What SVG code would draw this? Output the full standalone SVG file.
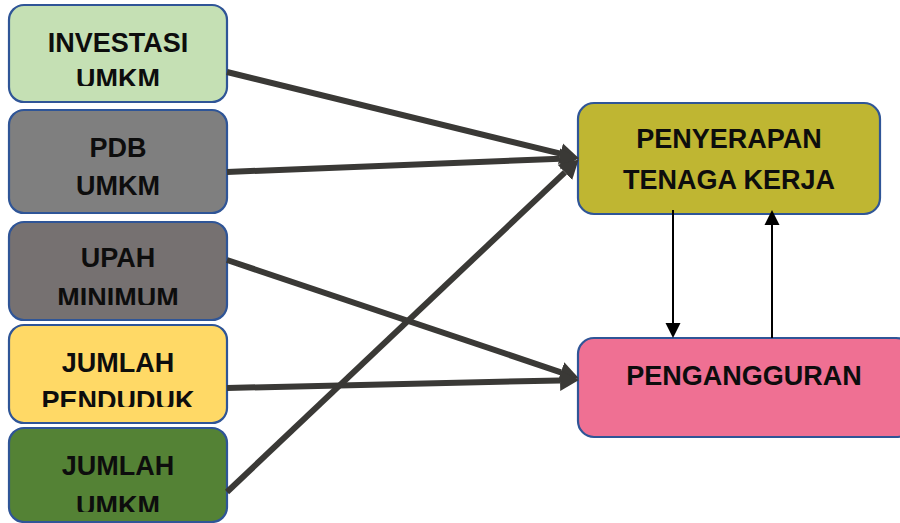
<svg xmlns="http://www.w3.org/2000/svg" width="900" height="523" viewBox="0 0 900 523">
<style>
.box{stroke:#2f5597;stroke-width:2.2}
.t{font-family:"Liberation Sans",Arial,sans-serif;font-weight:bold;font-size:27px;fill:#0d0d0d;text-anchor:middle}
.thick{stroke:#3a3936;stroke-width:6;fill:none}
.thin{stroke:#000;stroke-width:2;fill:none}
</style>
<defs>
<marker id="ah" markerUnits="userSpaceOnUse" markerWidth="20" markerHeight="24" viewBox="0 -11 19 22" refX="0" refY="0" orient="auto">
<path d="M0,-10 L18,0 L0,10 z" fill="#3a3936"/>
</marker>
<marker id="ahs" markerUnits="userSpaceOnUse" markerWidth="16" markerHeight="16" viewBox="0 -8 16 16" refX="0" refY="0" orient="auto">
<path d="M0,-7.5 L15,0 L0,7.5 z" fill="#000"/>
</marker>
<clipPath id="c1"><rect x="0" y="0" width="240" height="86"/></clipPath>
<clipPath id="c3"><rect x="0" y="215" width="240" height="90"/></clipPath>
<clipPath id="c4"><rect x="0" y="322" width="240" height="85"/></clipPath>
<clipPath id="c5"><rect x="0" y="426" width="240" height="86"/></clipPath>
</defs>

<g id="investasi">
<rect class="box" x="9" y="5" width="218" height="97" rx="15" fill="#c5e0b4"/>
<g clip-path="url(#c1)"><text class="t" x="118" y="52">INVESTASI</text><text class="t" x="118" y="88">UMKM</text></g>
</g>
<g id="pdb">
<rect class="box" x="9" y="110" width="218" height="103" rx="15" fill="#7f7f7f"/>
<text class="t" x="118" y="157">PDB</text><text class="t" x="118" y="195">UMKM</text>
</g>
<g id="upah">
<rect class="box" x="9" y="222" width="218" height="98" rx="15" fill="#767171"/>
<g clip-path="url(#c3)"><text class="t" x="118" y="267">UPAH</text><text class="t" x="118" y="307">MINIMUM</text></g>
</g>
<g id="penduduk">
<rect class="box" x="9" y="325" width="218" height="98" rx="15" fill="#ffd966"/>
<g clip-path="url(#c4)"><text class="t" x="118" y="372">JUMLAH</text><text class="t" x="118" y="410">PENDUDUK</text></g>
</g>
<g id="jumlahumkm">
<rect class="box" x="9" y="428" width="218" height="94" rx="15" fill="#548235"/>
<g clip-path="url(#c5)"><text class="t" x="118" y="475">JUMLAH</text><text class="t" x="118" y="515">UMKM</text></g>
</g>
<g id="penyerapan">
<rect class="box" x="578" y="103" width="302" height="111" rx="16" fill="#bfb632"/>
<text class="t" x="729" y="148">PENYERAPAN</text><text class="t" x="729" y="189">TENAGA KERJA</text>
</g>
<g id="pengangguran">
<rect class="box" x="578" y="338" width="334" height="99" rx="16" fill="#ef7093"/>
<text class="t" x="744" y="385">PENGANGGURAN</text>
</g>

<g id="connectors">
<line class="thick" x1="227" y1="72" x2="560.5" y2="153.7" marker-end="url(#ah)"/>
<line class="thick" x1="227" y1="172" x2="560" y2="158.7" marker-end="url(#ah)"/>
<line class="thick" x1="227" y1="492" x2="564.9" y2="172.4" marker-end="url(#ah)"/>
<line class="thick" x1="227" y1="260" x2="560.9" y2="372.3" marker-end="url(#ah)"/>
<line class="thick" x1="227" y1="388" x2="560" y2="380.4" marker-end="url(#ah)"/>
<line class="thin" x1="673" y1="210" x2="673" y2="323" marker-end="url(#ahs)"/>
<line class="thin" x1="772" y1="338" x2="772" y2="225" marker-end="url(#ahs)"/>
</g>
</svg>
